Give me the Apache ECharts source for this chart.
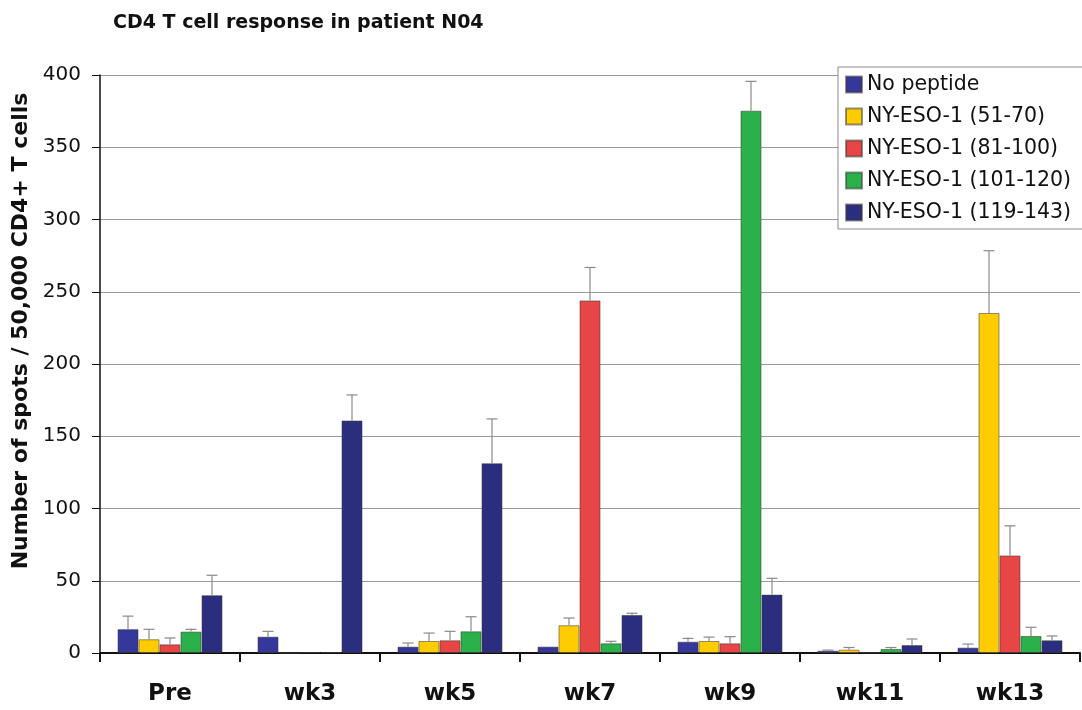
<!DOCTYPE html>
<html>
<head>
<meta charset="utf-8">
<script src="https://cdn.jsdelivr.net/npm/echarts@6/dist/echarts.min.js"></script>
<style>html,body{margin:0;padding:0;background:#fff;}#c{width:1082px;height:710px;}</style>
</head>
<body>
<div id="c"></div>
<script>
var categories = ['Pre', 'wk3', 'wk5', 'wk7', 'wk9', 'wk11', 'wk13'];
var seriesNames = ['No peptide', 'NY-ESO-1 (51-70)', 'NY-ESO-1 (81-100)', 'NY-ESO-1 (101-120)', 'NY-ESO-1 (119-143)'];
var noPeptide   = [16.5, 11.3, 4.4, 4.4, 7.8, 1.6, 3.7];
var noPeptideSD = [9.0, 3.7, 2.5, 0, 2.3, 0.4, 2.5];
var eso51   = [9.5, 0, 8.3, 19.2, 8.3, 2.3, 235.3];
var eso51SD = [6.9, 0, 5.5, 5.0, 2.7, 1.5, 43.1];
var eso81   = [6.0, 0.6, 8.8, 244.0, 6.7, 0.4, 67.5];
var eso81SD = [4.4, 0, 6.2, 22.8, 4.6, 0, 20.5];
var eso101   = [14.8, 0.6, 15.0, 6.7, 375.3, 2.8, 11.8];
var eso101SD = [1.6, 0, 10.1, 1.4, 20.3, 1.0, 6.0];
var eso119   = [40.0, 160.9, 131.3, 26.3, 40.4, 5.5, 8.8];
var eso119SD = [13.8, 17.7, 30.7, 1.2, 11.3, 4.2, 3.0];
var yTicks = [0, 50, 100, 150, 200, 250, 300, 350, 400];

var values = [noPeptide, eso51, eso81, eso101, eso119];
var sds = [noPeptideSD, eso51SD, eso81SD, eso101SD, eso119SD];
var colors = ['#35379B', '#FFCC00', '#E84545', '#2BB14A', '#2B2D7E'];
var FONT = 'DejaVu Sans';
var NB = 5, CAT_GAP = 0.25;

var series = [];
values.forEach(function (vals, i) {
  series.push({
    name: seriesNames[i], type: 'bar', data: vals,
    barGap: '0%', barCategoryGap: (CAT_GAP * 100) + '%',
    itemStyle: { color: colors[i], borderColor: 'rgba(60,60,60,0.55)', borderWidth: 1 },
    z: 2
  });
});
values.forEach(function (vals, i) {
  var data = vals.map(function (v, k) { return [k, v, v + sds[i][k], sds[i][k]]; });
  series.push({
    name: 'err' + i, type: 'custom', z: 3, silent: true,
    data: data,
    encode: { x: 0, y: [1, 2] },
    renderItem: function (params, api) {
      if (api.value(3) <= 0) return null;
      var k = api.value(0);
      var base = api.coord([k, api.value(1)]);
      var top = api.coord([k, api.value(2)]);
      var catW = api.size([1, 0])[0];
      var bw = catW * (1 - CAT_GAP) / NB;
      var x = base[0] - catW * (1 - CAT_GAP) / 2 + bw * (i + 0.5);
      var st = { stroke: '#8a8a8a', lineWidth: 1.2 };
      return { type: 'group', children: [
        { type: 'line', shape: { x1: x, y1: base[1], x2: x, y2: top[1] }, style: st },
        { type: 'line', shape: { x1: x - 5.5, y1: top[1], x2: x + 5.5, y2: top[1] }, style: st }
      ]};
    }
  });
});

var chart = echarts.init(document.getElementById('c'), null, { renderer: 'canvas' });
chart.setOption({
  animation: false,
  backgroundColor: '#fff',
  title: {
    text: 'CD4 T cell response in patient N04', left: 108, top: 9,
    textStyle: { fontFamily: FONT, fontSize: 19, fontWeight: 'bold', color: '#111' }
  },
  legend: {
    data: seriesNames, orient: 'vertical', left: 838, top: 67,
    icon: 'rect', itemWidth: 16, itemHeight: 16, itemGap: 11,
    padding: [7, 12, 6, 7],
    backgroundColor: '#fff', borderColor: '#8a8a8a', borderWidth: 1,
    textStyle: { fontFamily: FONT, fontSize: 20.5, color: '#111', lineHeight: 20 }
  },
  grid: { left: 100, right: 2, top: 75, bottom: 57, containLabel: false },
  xAxis: {
    type: 'category', data: categories,
    axisLine: { lineStyle: { color: '#111', width: 2 } },
    axisTick: { show: true, length: 9, alignWithLabel: false, lineStyle: { color: '#111', width: 2 } },
    axisLabel: { fontFamily: FONT, fontSize: 23, fontWeight: 'bold', color: '#111', margin: 30 },
    splitLine: { show: false }
  },
  yAxis: {
    type: 'value', min: yTicks[0], max: yTicks[yTicks.length - 1], interval: 50,
    name: 'Number of spots / 50,000 CD4+ T cells', nameLocation: 'middle', nameGap: 68,
    nameTextStyle: { fontFamily: FONT, fontSize: 22, fontWeight: 'bold', color: '#111', padding: [0, 0, 0, 66] },
    axisLine: { show: true, lineStyle: { color: '#111', width: 1.5 } },
    axisTick: { show: true, length: 8, lineStyle: { color: '#111', width: 1 } },
    axisLabel: { fontFamily: FONT, fontSize: 20, color: '#111', margin: 19 },
    splitLine: { show: true, lineStyle: { color: '#9a9a9a', width: 1 } }
  },
  series: series
});
</script>
</body>
</html>
